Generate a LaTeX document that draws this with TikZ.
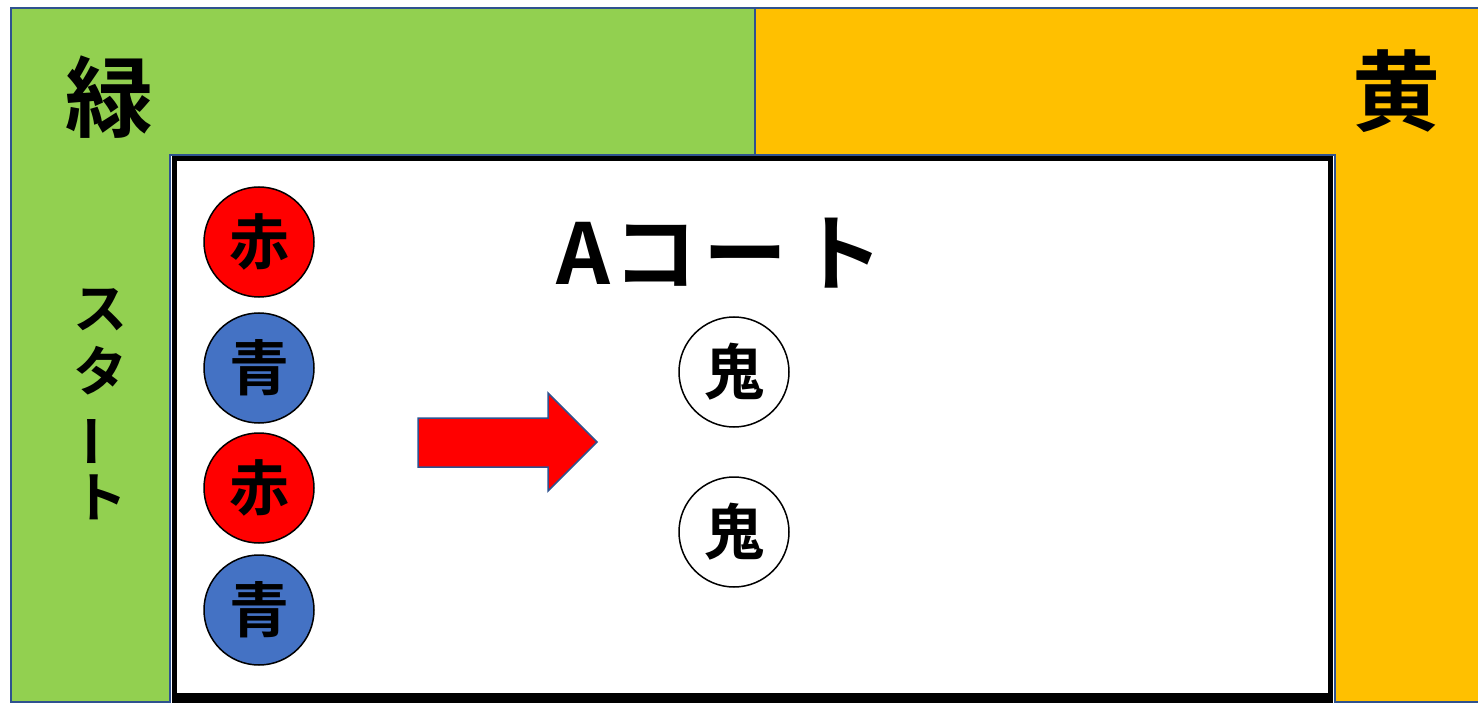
\documentclass[tikz,border=0pt]{standalone}
\usepackage{fontspec}
\newfontfamily\jp{Noto Sans CJK JP}[BoldFont={* Bold}]
\definecolor{grn}{HTML}{92D050}
\definecolor{ylw}{HTML}{FFC000}
\definecolor{edge}{HTML}{2F528F}
\definecolor{blu}{HTML}{4472C4}
\definecolor{rd}{HTML}{FF0000}
\tikzset{
  zone/.style={draw=edge, line width=1.5pt},
  token/.style={circle, draw=black, line width=1.5pt, minimum size=110pt, inner sep=0pt,
    font=\jp\bfseries\fontsize{60}{62}\selectfont},
  bigtext/.style={inner sep=0pt, font=\jp\bfseries\fontsize{88}{90}\selectfont},
}
\begin{document}
\begin{tikzpicture}[x=1pt,y=-1pt]
\useasboundingbox (0,0) rectangle (1478,703);
% colour zones
\fill[white] (0,0) rectangle (1478,703);
\draw[zone, fill=grn] (11,8) rectangle (755,702);
\draw[zone, fill=ylw] (755,8) rectangle (1490,702);
% court
\draw[zone, fill=white] (170,155) rectangle (1335,712);
\draw[black, line width=5pt] (174,158.5) rectangle (1330.5,698);
\fill[black] (171.5,693) rectangle (1333,712);
% labels
\node[bigtext] (midori) at (109,97) {緑};
\node[bigtext] (ki) at (1396,91) {黄};
\node[inner sep=0pt, font=\jp\bfseries\fontsize{84}{86}\selectfont] (court) at (720,253) {A\hspace{4pt}コ\hspace{6pt}ー\hspace{12pt}ト};
\node[inner sep=0pt, align=center, font=\jp\bfseries\fontsize{54}{63}\selectfont] (start) at (100,404)
  {ス\\タ\\\rotatebox[origin=c]{90}{ー}\\ト};
% players
\node[token, fill=rd]  (r1) at (259,242) {赤};
\node[token, fill=blu] (b1) at (259,368) {青};
\node[token, fill=rd]  (r2) at (259,488) {赤};
\node[token, fill=blu] (b2) at (259,610) {青};
% oni
\node[token, fill=white] (o1) at (734,372) {鬼};
\node[token, fill=white] (o2) at (734,532) {鬼};
% arrow
\draw[fill=rd, draw=edge, line width=1.5pt]
  (418,418) -- (548,418) -- (548,393) -- (597,442) -- (548,491) -- (548,467) -- (418,467) -- cycle;
\end{tikzpicture}
\end{document}
